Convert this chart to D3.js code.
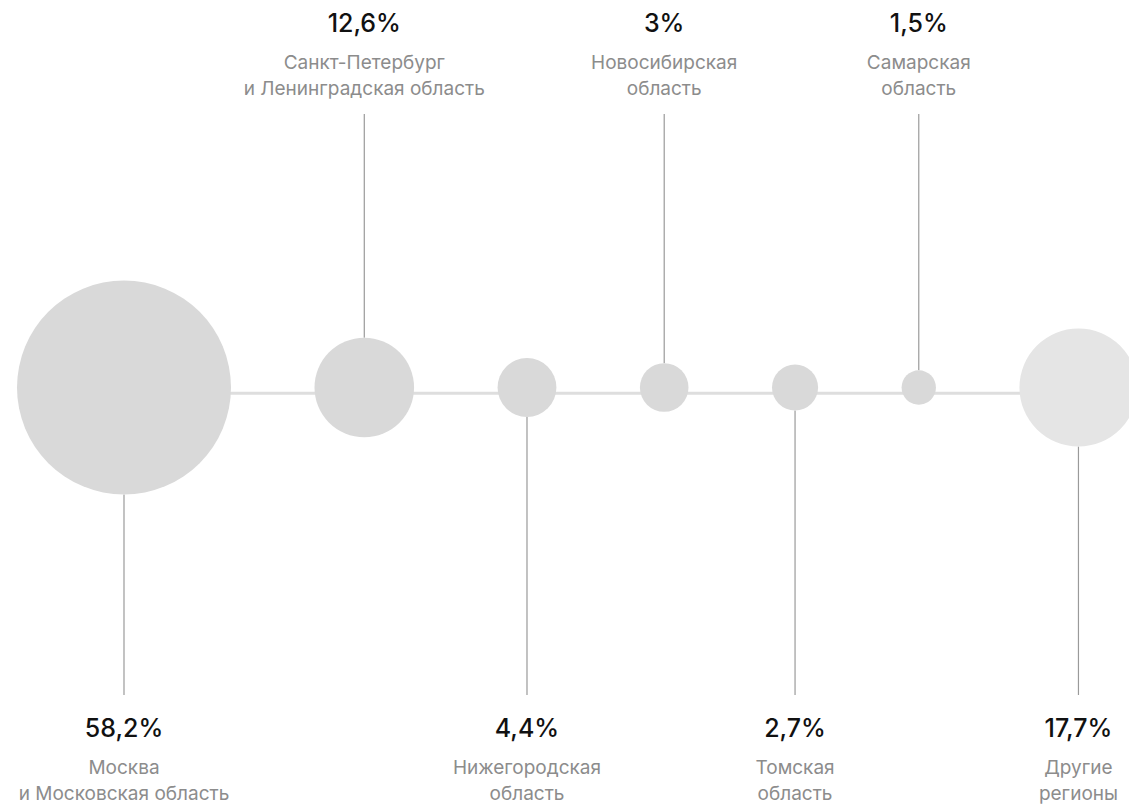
<!DOCTYPE html>
<html>
<head>
<meta charset="utf-8">
<script src="https://cdn.jsdelivr.net/npm/d3@7"></script>
<style>
html,body{margin:0;padding:0;background:#fff;}
svg{display:block;}
</style>
</head>
<body>
<svg id="chart" width="1129" height="805"></svg>
<script>
const regions = [
  ["Москва", "и Московская область"],
  ["Санкт-Петербург", "и Ленинградская область"],
  ["Нижегородская", "область"],
  ["Новосибирская", "область"],
  ["Томская", "область"],
  ["Самарская", "область"],
  ["Другие", "регионы"]
];
const values = [58.2, 12.6, 4.4, 3, 2.7, 1.5, 17.7];
const valueLabels = ["58,2%", "12,6%", "4,4%", "3%", "2,7%", "1,5%", "17,7%"];
const labelSide = ["bottom", "top", "bottom", "top", "bottom", "top", "bottom"];
const isOther = [false, false, false, false, false, false, true];

const svg = d3.select("#chart");
const W = 1129;
const cy = 387.5, lineY = 393.3;
const gap = 83.5;
const r = d3.scaleSqrt().domain([0, 58.2]).range([0, 107]);

// layout: constant gap between circle edges
const xs = [];
values.forEach((v, i) => {
  if (i === 0) xs.push(124);
  else xs.push(xs[i-1] + r(values[i-1]) + gap + r(v));
});

// horizontal line
svg.append("line")
  .attr("x1", xs[0]).attr("x2", W)
  .attr("y1", lineY).attr("y2", lineY)
  .attr("stroke", "#dedede").attr("stroke-width", 3);

// connector lines
values.forEach((v, i) => {
  const top = labelSide[i] === "top";
  svg.append("line")
    .attr("x1", xs[i]).attr("x2", xs[i])
    .attr("y1", top ? 114 : cy + r(v))
    .attr("y2", top ? cy - r(v) : 695)
    .attr("stroke", "#9a9a9a").attr("stroke-width", 1.2);
});

// circles
svg.selectAll("circle.bubble").data(values).enter().append("circle")
  .attr("class", "bubble")
  .attr("cx", (d, i) => xs[i]).attr("cy", cy)
  .attr("r", d => r(d))
  .attr("fill", (d, i) => isOther[i] ? "#e5e5e5" : "#d9d9d9");

// labels
const font = "Inter, 'Noto Sans', sans-serif";
values.forEach((v, i) => {
  const top = labelSide[i] === "top";
  const b0 = top ? 32 : 737;
  const b1 = top ? 68.5 : 773.5;
  const g = svg.append("g").attr("text-anchor", "middle").attr("font-family", font);
  g.append("text").attr("x", xs[i]).attr("y", b0)
    .attr("font-size", 25).attr("font-weight", 500).attr("fill", "#111")
    .text(valueLabels[i]);
  regions[i].forEach((line, j) => {
    g.append("text").attr("x", xs[i]).attr("y", b1 + j * 26.5)
      .attr("font-size", 19).attr("font-weight", 400).attr("fill", "#8c8c8c")
      .text(line);
  });
});
</script>
</body>
</html>
